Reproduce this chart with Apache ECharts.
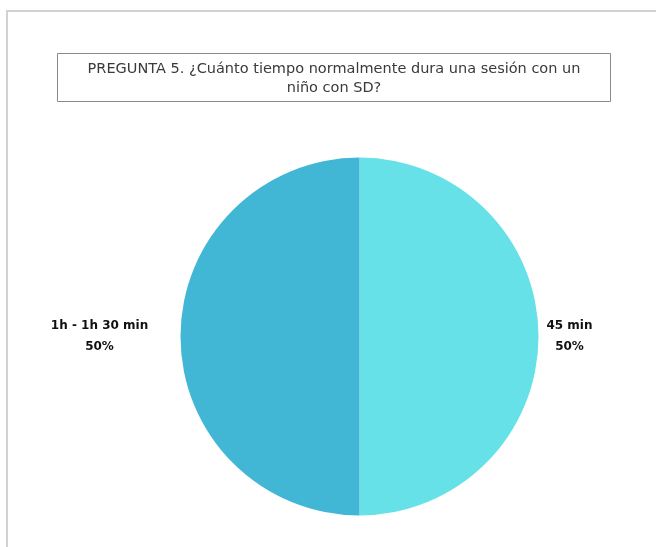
<!DOCTYPE html>
<html lang="es">
<head>
    <meta charset="UTF-8">
    <title>Pregunta 5</title>
    <script src="https://cdn.jsdelivr.net/npm/echarts@6/dist/echarts.min.js"></script>
</head>
<body style="margin:0;background:#fff;">
<div id="main" style="width: 656px;height:547px;"></div>
<script>
    // datos
    let categories = ['45 min', '1h - 1h 30 min'];
    let values = [50, 50];
    let colors = ['#67e1e8', '#42b6d5'];
    let titleText = 'PREGUNTA 5. ¿Cuánto tiempo normalmente dura una sesión con un\nniño con SD?';

    // distancia de cada etiqueta al borde del pastel y ancho del bloque
    let labelGap = [1, 26];
    let labelWidth = [50, 100];

    var myChart = echarts.init(document.getElementById('main'));

    let pieData = [];
    for (let i = 0; i < categories.length; i++) {
        pieData.push({
            name: categories[i],
            value: values[i],
            itemStyle: {color: colors[i]},
            label: {
                rich: {
                    a: {
                        fontFamily: 'DejaVu Sans',
                        fontWeight: 'bold',
                        fontSize: 12,
                        color: '#111',
                        width: labelWidth[i],
                        align: 'center',
                        lineHeight: 21
                    }
                }
            },
            labelLine: {show: false, length: labelGap[i], length2: 0}
        });
    }

    option = {
        backgroundColor: '#fff',
        title: {
            text: titleText,
            left: 334,
            top: 60,
            padding: 0,
            textAlign: 'center',
            textStyle: {
                fontFamily: 'DejaVu Sans',
                fontSize: 14.5,
                fontWeight: 'normal',
                color: '#3a3a3a',
                lineHeight: 19
            }
        },
        graphic: [
            {
                type: 'rect',
                shape: {x: 7, y: 11, width: 700, height: 600},
                style: {fill: null, stroke: '#d2d2d2', lineWidth: 2},
                silent: true
            },
            {
                type: 'rect',
                shape: {x: 57.5, y: 53.5, width: 553, height: 48},
                style: {fill: null, stroke: '#8a8a8a', lineWidth: 1},
                silent: true
            }
        ],
        series: [{
            type: 'pie',
            center: [359.5, 336.5],
            radius: 179,
            startAngle: 90,
            clockwise: true,
            animation: false,
            silent: true,
            label: {
                show: true,
                position: 'outside',
                formatter: '{a|{b}}\n{a|{d}%}'
            },
            data: pieData
        }]
    };

    myChart.setOption(option);
</script>
</body>
</html>
